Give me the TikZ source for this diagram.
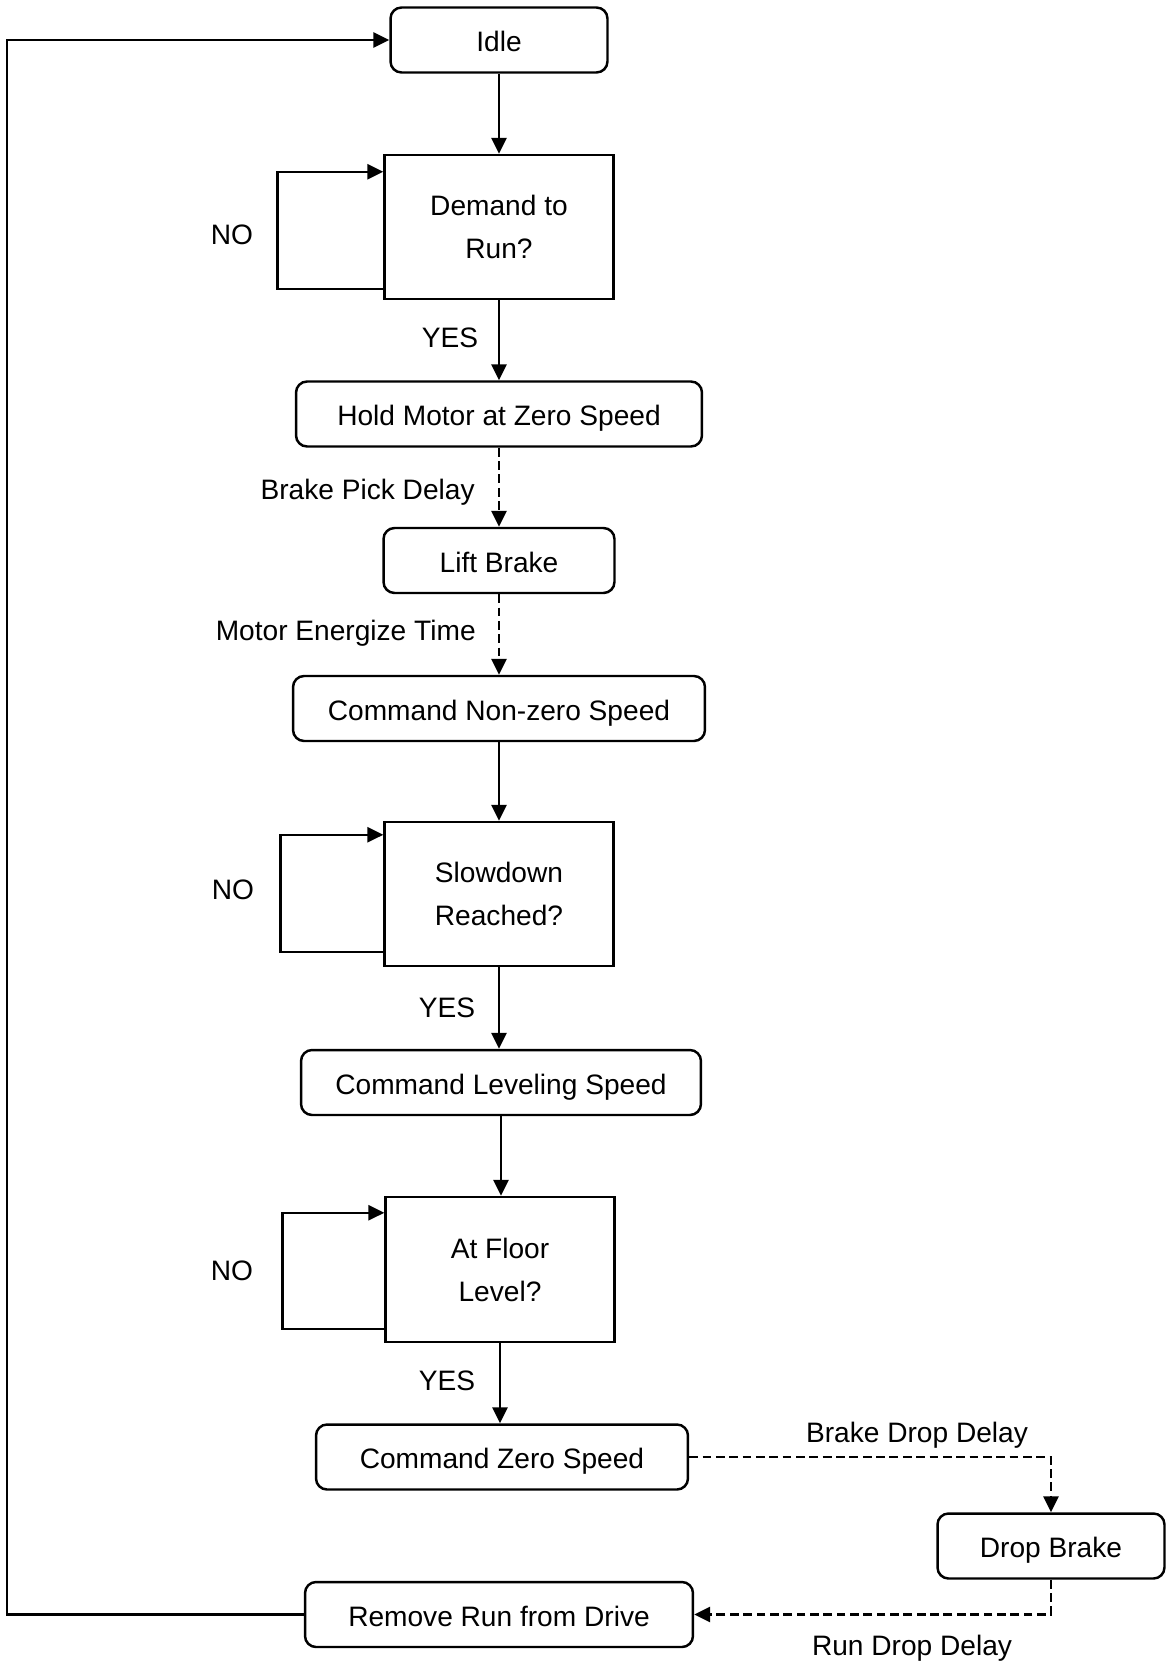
\documentclass[tikz,border=0pt]{standalone}
\usepackage{fontspec}
\setmainfont{Liberation Sans}
\usetikzlibrary{arrows.meta}
\begin{document}
\begin{tikzpicture}[x=0.02cm,y=-0.02cm,
  every node/.style={font=\fontsize{16}{24.5}\selectfont},
  box/.style={draw, line width=1.4pt, rounded corners=0.22cm, minimum height=1.3cm, inner sep=0pt, text height=13.6pt, text depth=0pt},
  decision/.style={draw, line width=1.4pt, minimum width=4.58cm, minimum height=2.88cm, align=center, inner sep=0pt},
  arr/.style={line width=1.4pt, -{Triangle[length=9pt,width=8.5pt]}},
  darr/.style={arr, dash pattern=on 5pt off 2.6pt},
  lbl/.style={inner sep=0pt}
]
\useasboundingbox (0,0) rectangle (1166,1664);

\node[box, minimum width=4.34cm] (idle) at (499,40) {Idle};
\node[decision] (demand) at (499,227) {Demand to\\Run?};
\node[box, minimum width=8.12cm] (hold) at (499,414) {Hold Motor at Zero Speed};
\node[box, minimum width=4.62cm] (lift) at (499,560.5) {Lift Brake};
\node[box, minimum width=8.24cm] (nonzero) at (499,708.5) {Command Non-zero Speed};
\node[decision] (slow) at (499,894) {Slowdown\\Reached?};
\node[box, minimum width=8.0cm] (level) at (501,1082.5) {Command Leveling Speed};
\node[decision, minimum height=2.9cm] (floor) at (500,1269.5) {At Floor\\Level?};
\node[box, minimum width=7.44cm] (zero) at (502,1457) {Command Zero Speed};
\node[box, minimum width=4.54cm] (drop) at (1051,1546) {Drop Brake};
\node[box, minimum width=7.76cm] (remove) at (499,1614.5) {Remove Run from Drive};

\node[lbl] (no1) at (232,235) {NO};
\node[lbl] (no2) at (233,890) {NO};
\node[lbl] (no3) at (232,1271) {NO};
\node[lbl] (yes1) at (450,338) {YES};
\node[lbl] (yes2) at (447,1008) {YES};
\node[lbl] (yes3) at (447,1381) {YES};
\node[lbl, anchor=east] (bpd) at (475,492) {Brake Pick Delay};
\node[lbl, anchor=east] (met) at (476,633) {Motor Energize Time};
\node[lbl] (bdd) at (917,1435) {Brake Drop Delay};
\node[lbl] (rdd) at (912,1648) {Run Drop Delay};

\draw[arr] (idle.south) -- (idle.south |- demand.north);
\draw[arr] (demand.south) -- (demand.south |- hold.north);
\draw[darr] (hold.south) -- (hold.south |- lift.north);
\draw[darr] (lift.south) -- (lift.south |- nonzero.north);
\draw[arr] (nonzero.south) -- (nonzero.south |- slow.north);
\draw[arr] (slow.south) -- (slow.south |- level.north);
\draw[arr] (level.south) -- (level.south |- floor.north);
\draw[arr] (floor.south) -- (floor.south |- zero.north);

\draw[arr] ([yshift=0.22cm]demand.south west) -- ++(-106,0) |- ([yshift=-0.36cm]demand.north west);
\draw[arr] ([yshift=0.3cm]slow.south west) -- ++(-103,0) |- ([yshift=-0.28cm]slow.north west);
\draw[arr] ([yshift=0.28cm]floor.south west) -- ++(-102,0) |- ([yshift=-0.34cm]floor.north west);

\draw[darr] (zero.east) -| (drop.north);
\draw[darr] (drop.south) |- (remove.east);
\coordinate (ret) at (7,40);
\draw[arr] (remove.west) -| (ret) -- (idle.west);
\end{tikzpicture}
\end{document}
